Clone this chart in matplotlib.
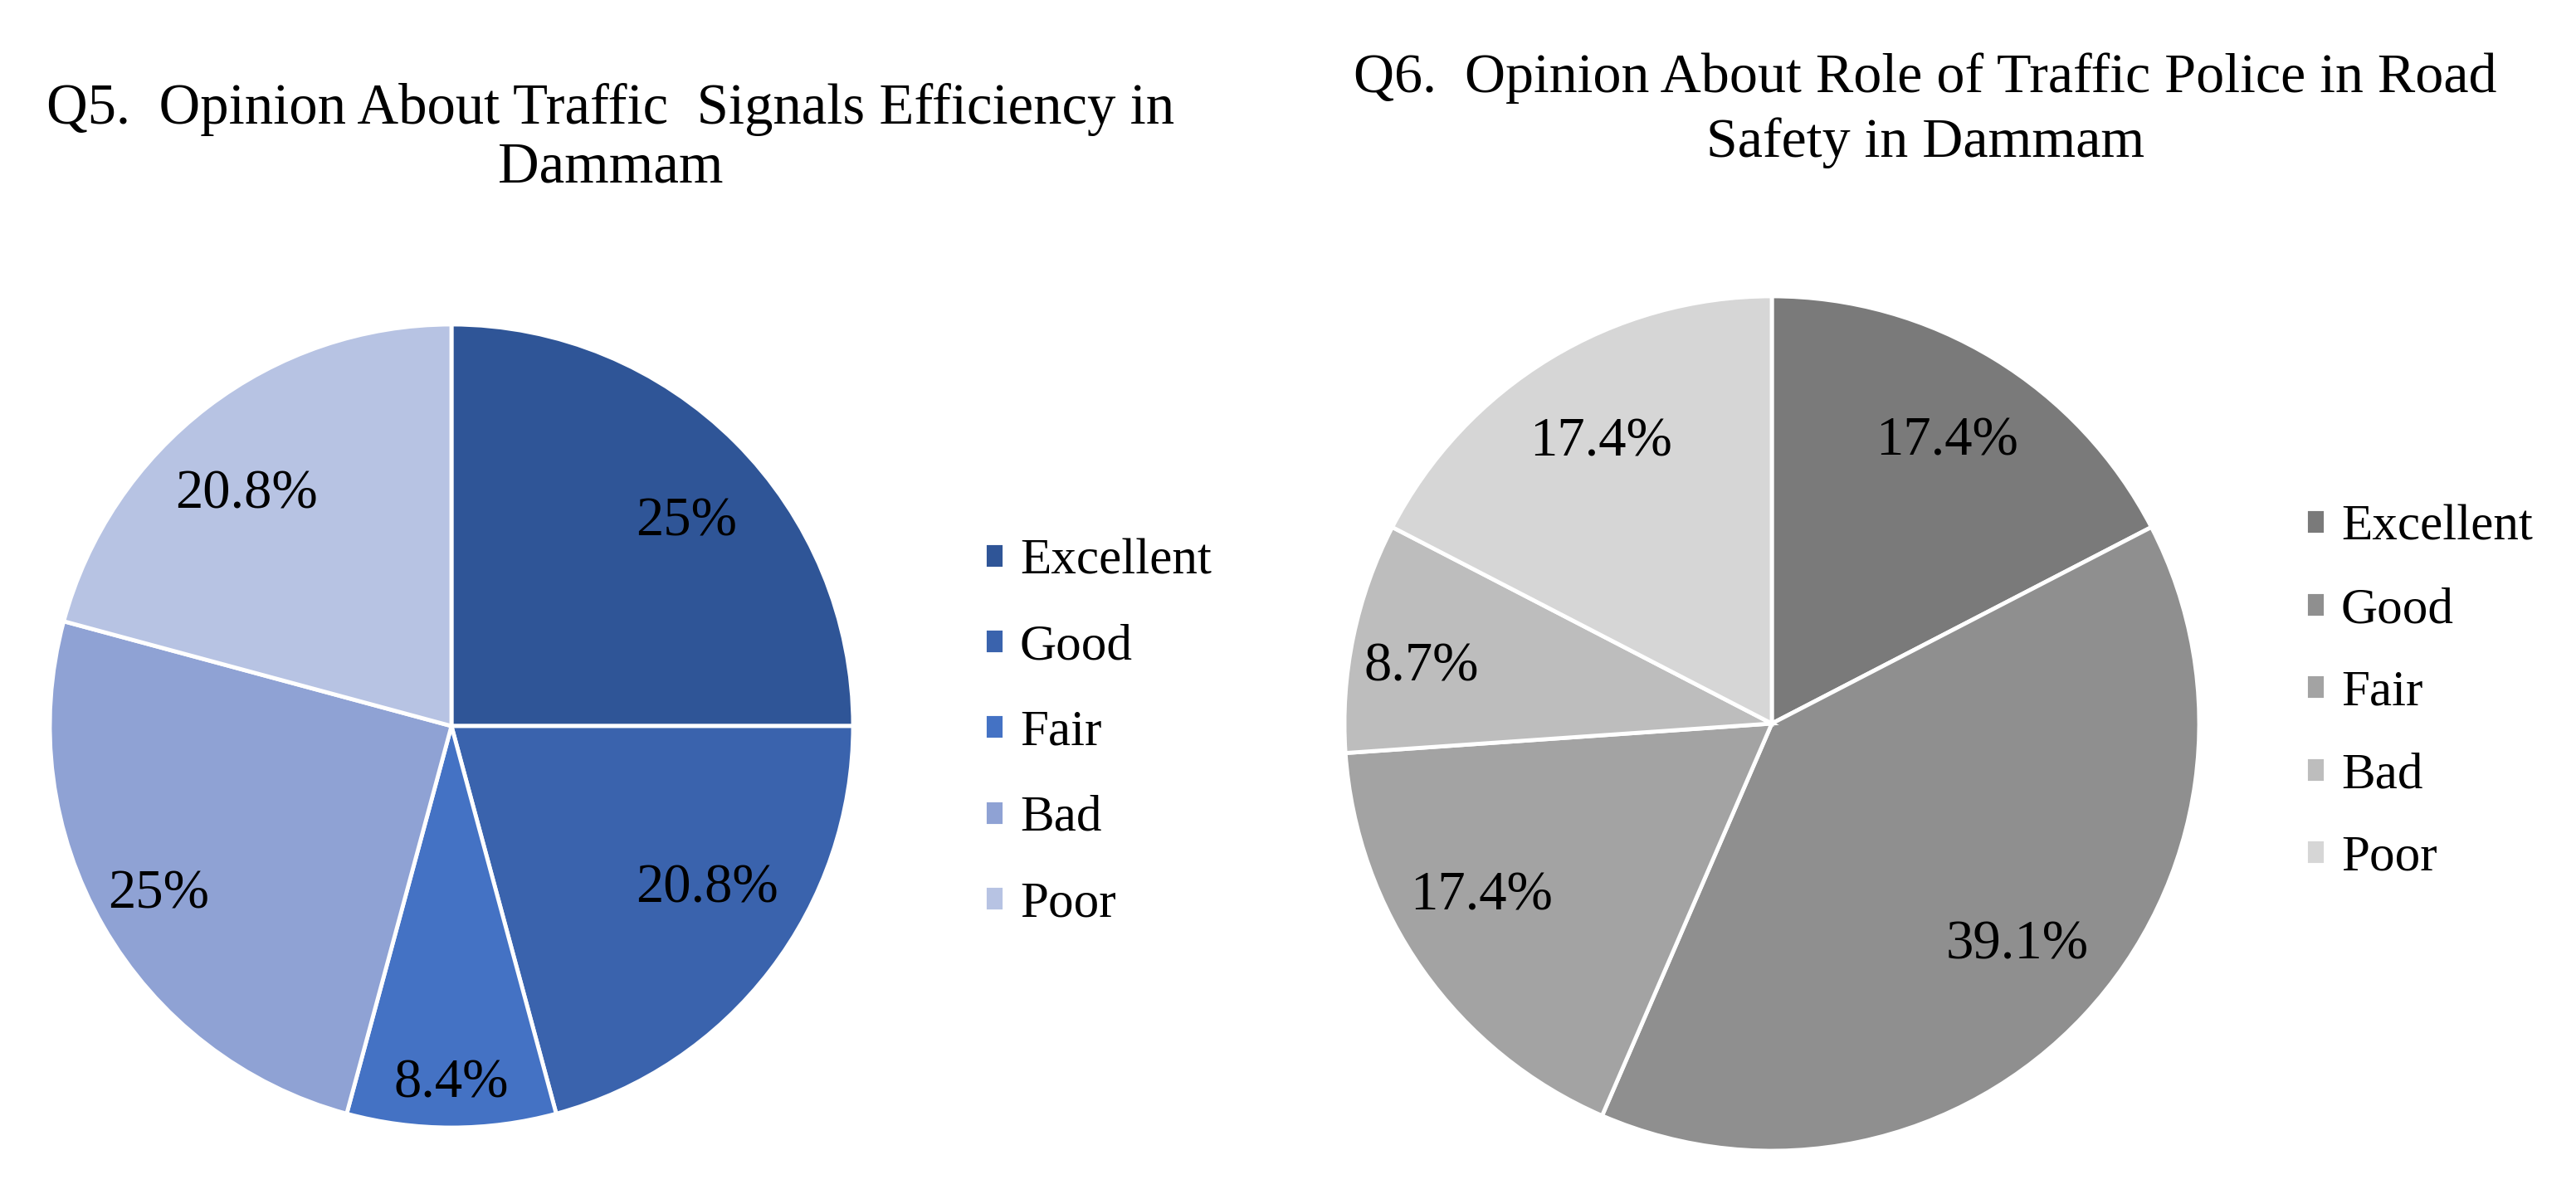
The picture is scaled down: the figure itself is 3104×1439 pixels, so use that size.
import numpy as np
import matplotlib
matplotlib.use("Agg")
import matplotlib.pyplot as plt

# --- data ---
categories = ["Excellent", "Good", "Fair", "Bad", "Poor"]
q5_values = [25, 20.8, 8.4, 25, 20.8]
q6_values = [17.4, 39.1, 17.4, 8.7, 17.4]
q5_title = ["Q5.  Opinion About Traffic  Signals Efficiency in", "Dammam"]
q6_title = ["Q6.  Opinion About Role of Traffic Police in Road", "Safety in Dammam"]

q5_colors = ["#2F5597", "#3A63AD", "#4472C4", "#8FA2D4", "#B7C3E3"]
q6_colors = ["#7A7A7A", "#8F8F8F", "#A3A3A3", "#BDBDBD", "#D6D6D6"]

plt.rcParams["font.family"] = ["Liberation Serif", "DejaVu Serif"]

W, H = 3104, 1439
fig = plt.figure(figsize=(W / 100, H / 100), dpi=100)


def pie_axes(cx, cy, r):
    # axes spanning exactly the pie circle, in pixel terms
    return fig.add_axes([(cx - r) / W, 1 - (cy + r) / H, 2 * r / W, 2 * r / H])


def draw_pie(ax, values, colors, dists, nudges):
    wedges, _ = ax.pie(values, colors=colors, startangle=90, counterclock=False,
                       wedgeprops=dict(edgecolor="white", linewidth=3.5))
    ax.set_xlim(-1, 1)
    ax.set_ylim(-1, 1)
    ax.set_aspect("equal")
    ax.axis("off")
    for w, v, d, n in zip(wedges, values, dists, nudges):
        w.set_clip_on(False)
        ang = np.deg2rad((w.theta1 + w.theta2) / 2 + n)
        ax.text(d * np.cos(ang), d * np.sin(ang), f"{v:g}%",
                ha="center", va="center", fontsize=48, color="black")
    return wedges


# Q5 pie
ax1 = pie_axes(544, 875, 484)
w1 = draw_pie(ax1, q5_values, q5_colors,
              [0.775, 0.755, 0.89, 0.84, 0.77], [-4, 5, 0, 0, 4])

# Q6 pie
ax2 = pie_axes(2135, 872, 515)
w2 = draw_pie(ax2, q6_values, q6_colors,
              [0.776, 0.774, 0.79, 0.83, 0.77], [-0.5, 1, -4.5, 2.5, 0])

# titles
fig.text(736 / W, 1 - 149 / H, q5_title[0], ha="center", va="baseline", fontsize=49.5)
fig.text(736 / W, 1 - 220 / H, q5_title[1], ha="center", va="baseline", fontsize=49.5)
fig.text(2320 / W, 1 - 111 / H, q6_title[0], ha="center", va="baseline", fontsize=49)
fig.text(2320 / W, 1 - 189 / H, q6_title[1], ha="center", va="baseline", fontsize=49)

# legends
leg_kw = dict(frameon=False, fontsize=44, handlelength=0.4, handleheight=0.4,
              handletextpad=0.3, borderpad=0, borderaxespad=0, loc="center left")
fig.legend(w1, categories, bbox_to_anchor=(1186 / W, 1 - 883 / H),
           labelspacing=0.78, **leg_kw)
fig.legend(w2, categories, bbox_to_anchor=(2778 / W, 1 - 835 / H),
           labelspacing=0.72, **leg_kw)

fig.savefig("out.png", dpi=100, facecolor="white")
